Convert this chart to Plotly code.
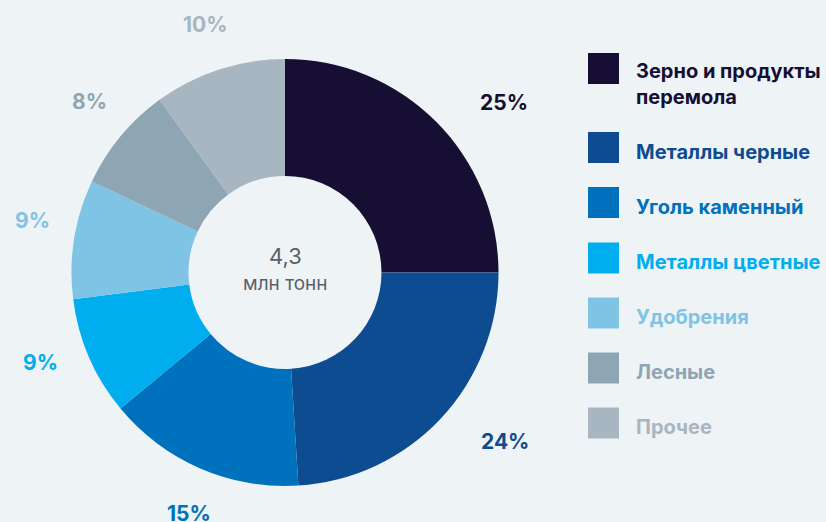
import math
import plotly.graph_objects as go

# ---- data ----
categories = ["Зерно и продукты<br>перемола", "Металлы черные", "Уголь каменный",
              "Металлы цветные", "Удобрения", "Лесные", "Прочее"]
shares = [25, 24, 15, 9, 9, 8, 10]
total_value = "4,3"
total_unit = "млн тонн"

# ---- style ----
colors = ["#160F33", "#0E4C92", "#0071BC", "#00AEEF", "#7FC4E4", "#8EA6B4", "#A7B6C0"]
bg = "#EEF3F6"
W, H = 826, 522
cx, cy, R = 285, 272.5, 213.5
hole = 0.452
label_r = 259
label_nudge = [(36, 13), (31, -8), (7, 3), (-7, -13), (3, -11), (4, -6), (1, -2)]
font_family = "Inter, Lato, sans-serif"


def px(x):
    return x / W


def py(y):
    return 1 - y / H


fig = go.Figure(go.Pie(
    values=shares,
    labels=[c.replace("<br>", " ") for c in categories],
    sort=False,
    direction="clockwise",
    rotation=0,
    hole=hole,
    textinfo="none",
    marker=dict(colors=colors, line=dict(width=0)),
    domain=dict(x=[px(cx - R), px(cx + R)], y=[py(cy + R), py(cy - R)]),
    showlegend=False,
))

annotations = []
# percentage labels, positioned at slice mid-angles
cum = 0
tot = sum(shares)
for i, v in enumerate(shares):
    mid = (cum + v / 2) / tot * 2 * math.pi
    cum += v
    lx = cx + label_r * math.sin(mid) + label_nudge[i][0]
    ly = cy - label_r * math.cos(mid) + label_nudge[i][1]
    annotations.append(dict(
        x=px(lx), y=py(ly), xref="paper", yref="paper",
        text=f"{v}%", showarrow=False, xanchor="center", yanchor="middle",
        font=dict(family=font_family, size=21, color=colors[i], weight=700),
    ))

# centre text
annotations.append(dict(x=px(cx), y=py(256), xref="paper", yref="paper",
                        text=total_value, showarrow=False,
                        font=dict(family=font_family, size=22, color="#5C5F66")))
annotations.append(dict(x=px(cx), y=py(283), xref="paper", yref="paper",
                        text=total_unit, showarrow=False,
                        font=dict(family=font_family, size=19, color="#5C5F66")))

# custom legend
shapes = []
row_y = [68.5, 147.5, 202.5, 258, 313, 368, 423]
sq = 31
for i, name in enumerate(categories):
    yc = row_y[i]
    shapes.append(dict(type="rect", xref="paper", yref="paper",
                       x0=px(588), x1=px(588 + sq), y0=py(yc + sq / 2), y1=py(yc - sq / 2),
                       fillcolor=colors[i], line=dict(width=0)))
    if "<br>" in name:
        annotations.append(dict(x=px(634), y=py(yc - 12), xref="paper", yref="paper",
                                text=name, showarrow=False, xanchor="left", yanchor="top",
                                align="left",
                                font=dict(family=font_family, size=20, color=colors[i], weight=700)))
    else:
        annotations.append(dict(x=px(634), y=py(yc + 4), xref="paper", yref="paper",
                                text=name, showarrow=False, xanchor="left", yanchor="middle",
                                align="left",
                                font=dict(family=font_family, size=20, color=colors[i], weight=700)))

fig.update_layout(
    width=W, height=H,
    margin=dict(l=0, r=0, t=0, b=0),
    paper_bgcolor=bg, plot_bgcolor=bg,
    annotations=annotations, shapes=shapes,
)

fig.write_html("out.html", config={"displayModeBar": False},
               post_script="document.body.style.margin='0';document.body.style.background='%s';" % bg)
